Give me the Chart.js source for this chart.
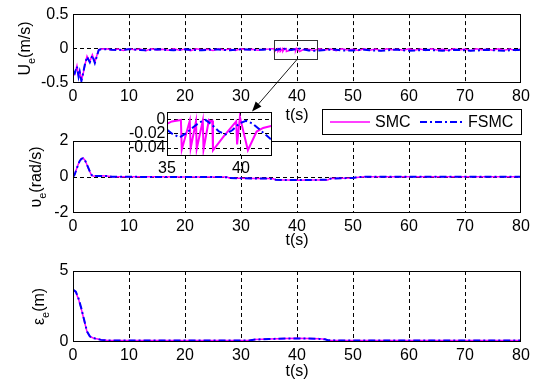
<!DOCTYPE html>
<html><head><meta charset="utf-8">
<script src="https://cdn.jsdelivr.net/npm/chart.js@4.4.0/dist/chart.umd.min.js"></script>
<style>
html,body{margin:0;padding:0;background:#fff;}
#wrap{position:relative;width:534px;height:387px;overflow:hidden;background:#fff;}
canvas{position:absolute;left:0;top:0;}
</style></head><body>
<div id="wrap">
<canvas id="c1" width="534" height="387"></canvas>
<canvas id="c2" width="534" height="387"></canvas>
<canvas id="c3" width="534" height="387"></canvas>
<canvas id="c4" width="534" height="387"></canvas>
</div>
<script>
// ---------------- data ----------------
const seriesNames = ['SMC', 'FSMC'];
const timeTicks = [0,10,20,30,40,50,60,70,80];
const uTicks = [-0.5,0,0.5];
const vTicks = [-2,0,2];
const eTicks = [0,5];
const insetTimeTicks = [35,40];
const insetUTicks = [-0.04,-0.02,0];

// U_e (m/s) - SMC
const tSmcU = [0,0.3,0.7,1.0,1.2,1.5,1.8,2.1,2.5,3.0,3.45,3.9,4.3,4.6,5.0,
  6,7,8,9,10,11,12,13,14,15,16,17,18,19,20,21,22,23,24,25,26,27,28,29,30,31,32,33,34,
  35.03,35.33,35.63,35.94,36.0,36.54,36.6,36.96,37.01,37.42,37.47,37.83,37.95,38.06,38.11,38.82,39.68,39.74,39.93,40.47,41.06,41.5,42.09,
  43,44,45,46,47,48,49,50,51,52,53,54,55,56,57,58,59,60,61,62,63,64,65,66,67,68,69,70,71,72,73,74,75,76,77,78,79,80];
const smcU = [-0.32,-0.37,-0.25,-0.40,-0.33,-0.46,-0.37,-0.25,-0.11,-0.19,-0.09,-0.20,-0.09,-0.015,-0.005,
  -0.004,-0.022,-0.006,-0.028,-0.003,-0.018,-0.008,-0.03,-0.002,-0.02,-0.01,-0.026,-0.004,-0.024,-0.006,-0.03,-0.003,-0.019,-0.009,-0.027,-0.002,-0.022,-0.007,-0.029,-0.004,-0.017,-0.01,-0.025,-0.012,
  -0.006,-0.003,-0.002,-0.001,-0.042,-0.002,-0.040,-0.003,-0.041,-0.002,-0.042,-0.001,-0.003,-0.002,-0.043,-0.024,-0.003,-0.035,0.003,-0.043,-0.017,-0.012,-0.009,
  -0.028,-0.005,-0.021,-0.008,-0.03,-0.003,-0.02,-0.01,-0.027,-0.004,-0.023,-0.006,-0.03,-0.002,-0.018,-0.009,-0.026,-0.005,-0.024,-0.007,-0.029,-0.003,-0.02,-0.01,-0.027,-0.004,-0.022,-0.006,-0.03,-0.002,-0.019,-0.009,-0.026,-0.005,-0.023,-0.007,-0.028,-0.004];

// U_e (m/s) - FSMC
const tFsmcU = [0,0.3,0.7,1.0,1.2,1.5,1.8,2.1,2.5,3.0,3.45,3.9,4.3,4.6,5.0,
  6,7,8,9,10,11,12,13,14,15,16,17,18,19,20,21,22,23,24,25,26,27,28,29,30,31,32,33,34,
  35.03,35.41,35.86,36.32,36.77,37.23,37.61,38.06,38.51,38.97,39.43,39.88,40.34,40.79,41.25,41.7,42.09,
  43,44,45,46,47,48,49,50,51,52,53,54,55,56,57,58,59,60,61,62,63,64,65,66,67,68,69,70,71,72,73,74,75,76,77,78,79,80];
const fsmcU = [-0.33,-0.36,-0.26,-0.41,-0.34,-0.47,-0.36,-0.24,-0.12,-0.20,-0.10,-0.21,-0.10,-0.02,-0.01,
  -0.012,-0.018,-0.022,-0.017,-0.01,-0.014,-0.021,-0.024,-0.018,-0.011,-0.015,-0.022,-0.025,-0.019,-0.012,-0.016,-0.023,-0.026,-0.02,-0.013,-0.015,-0.021,-0.024,-0.018,-0.011,-0.014,-0.02,-0.018,-0.016,
  -0.015,-0.021,-0.025,-0.019,-0.011,-0.004,-0.001,-0.008,-0.017,-0.021,-0.015,-0.006,-0.002,-0.006,-0.014,-0.022,-0.029,
  -0.031,-0.028,-0.022,-0.016,-0.019,-0.026,-0.03,-0.027,-0.02,-0.017,-0.023,-0.029,-0.032,-0.026,-0.019,-0.018,-0.025,-0.031,-0.03,-0.023,-0.018,-0.021,-0.028,-0.032,-0.027,-0.02,-0.019,-0.026,-0.031,-0.029,-0.022,-0.018,-0.023,-0.03,-0.032,-0.025,-0.02,-0.022];

// upsilon_e (rad/s)
const tV = [0,0.3,0.6,0.9,1.2,1.5,1.8,2.1,2.4,2.7,3.0,3.3,3.6,4,5,6,7,10,15,20,25,27.5,28,30,33,35,35.8,36.2,38,40,42,44,45.5,46,48,50,51,52,55,60,65,70,75,80];
const smcV = [0,0.15,0.42,0.68,0.9,1.02,1.05,0.95,0.75,0.52,0.3,0.11,0.04,0.07,0.07,0.06,0.02,0.01,0.01,0.0,0.0,0.0,-0.07,-0.07,-0.08,-0.08,-0.1,-0.16,-0.17,-0.18,-0.17,-0.17,-0.16,-0.08,-0.07,-0.06,-0.01,0.01,0.01,0.01,0.01,0.01,0.01,0.01];
const fsmcV = [0,0.14,0.4,0.67,0.89,1.01,1.04,0.95,0.76,0.53,0.31,0.12,0.03,0.06,0.06,0.05,0.02,0.01,0.0,0.0,0.0,-0.01,-0.06,-0.07,-0.08,-0.09,-0.11,-0.15,-0.17,-0.17,-0.16,-0.16,-0.15,-0.09,-0.07,-0.05,0.0,0.01,0.01,0.01,0.01,0.01,0.01,0.01];

// epsilon_e (m)
const tE = [0,0.5,1.0,1.5,2.0,2.5,3.0,3.5,4.0,5.0,6.0,8,10,20,30,31.5,32.5,35,38,40,42,44,45,45.5,50,60,70,80];
const smcE = [3.65,3.52,3.0,2.3,1.5,0.72,0.4,0.3,0.25,0.16,0.12,0.1,0.1,0.1,0.1,0.12,0.18,0.22,0.25,0.26,0.25,0.23,0.2,0.12,0.1,0.1,0.1,0.1];
const fsmcE = [3.7,3.55,3.05,2.35,1.55,0.75,0.4,0.29,0.24,0.15,0.11,0.1,0.1,0.1,0.1,0.11,0.17,0.21,0.24,0.25,0.24,0.22,0.19,0.12,0.1,0.1,0.1,0.1];

// ---------------- drawing ----------------
const FONT = '"Liberation Sans", Arial, Helvetica, sans-serif';
Chart.defaults.font.family = FONT;
Chart.defaults.font.size = 16;
Chart.defaults.color = '#000';

function pts(ts, vs){ return ts.map((t,i)=>({x:t, y:vs[i]})); }

const SMC_STYLE = {borderColor:'#ff00ff', borderWidth:1.5, pointRadius:0, tension:0, order:2};
const FSMC_STYLE = {borderColor:'#0000ff', borderWidth:2, borderDash:[7,3,2,3], pointRadius:0, tension:0, order:1};

function datasets(tS, vS, tF, vF, smcWidth){
  const smc = Object.assign({label:seriesNames[0], data:pts(tS,vS)}, SMC_STYLE);
  if (smcWidth) smc.borderWidth = smcWidth;
  return [
    Object.assign({label:seriesNames[1], data:pts(tF,vF)}, FSMC_STYLE),
    smc
  ];
}

const framePlugin = {
  id:'frame',
  beforeDraw(chart, args, o){
    if(!o.fill) return;
    const a = chart.chartArea, c = chart.ctx;
    c.save(); c.fillStyle = '#fff';
    c.fillRect(a.left, a.top, a.right-a.left, a.bottom-a.top);
    c.restore();
  },
  afterDraw(chart){
    const a = chart.chartArea, c = chart.ctx;
    c.save(); c.strokeStyle = '#000'; c.lineWidth = 1;
    const l = Math.round(a.left)+0.5, t = Math.round(a.top)+0.5;
    const r = Math.round(a.right)-0.5, b = Math.round(a.bottom)-0.5;
    c.strokeRect(l, t, r-l, b-t);
    c.restore();
  }
};

const yTitlePlugin = {
  id:'yTitle',
  afterDraw(chart, args, o){
    if(!o || !o.main) return;
    const c = chart.ctx, a = chart.chartArea;
    c.save(); c.fillStyle = '#000'; c.textBaseline = 'alphabetic'; c.textAlign = 'left';
    c.font = '16px ' + FONT;
    const w1 = c.measureText(o.main).width, w3 = c.measureText(o.rest).width;
    c.font = '11px ' + FONT;
    const w2 = c.measureText(o.sub).width;
    const total = w1 + w2 + w3;
    c.translate(o.x, (a.top + a.bottom)/2);
    c.rotate(-Math.PI/2);
    let x = -total/2;
    c.font = '16px ' + FONT; c.fillText(o.main, x, 0); x += w1;
    c.font = '11px ' + FONT; c.fillText(o.sub, x, 5); x += w2;
    c.font = '16px ' + FONT; c.fillText(o.rest, x, 0);
    c.restore();
  }
};
Chart.register(framePlugin, yTitlePlugin);

function gridColor(list){
  return (c) => (c.tick && list.includes(c.tick.value)) ? '#000' : 'rgba(0,0,0,0)';
}

function makeOptions(o){
  return {
    responsive:false, animation:false, devicePixelRatio:1,
    layout:{padding:o.padding},
    plugins:{legend:{display:false}, tooltip:{enabled:false}, yTitle:o.yTitle || {}, frame:{fill:!!o.fill}},
    scales:{
      x:{
        type:'linear', min:o.xMin, max:o.xMax,
        afterBuildTicks:s=>{ s.ticks = o.xTicks.map(v=>({value:v})); },
        afterFit:s=>{ s.height = o.xH; },
        grid:{drawTicks:false, lineWidth:1, color:gridColor(o.xGrid)},
        border:{display:false, dash:[4,3]},
        ticks:{padding:o.xPad, autoSkip:false, maxRotation:0, minRotation:0, color:'#000', font:{size:16}, callback:v=>String(v)},
        title:o.xTitle ? {display:true, text:o.xTitle, padding:0, color:'#000', font:{size:16}} : {display:false}
      },
      y:{
        type:'linear', min:o.yMin, max:o.yMax,
        afterBuildTicks:s=>{ s.ticks = o.yTicks.map(v=>({value:v})); },
        afterFit:s=>{ s.width = o.yW; },
        grid:{drawTicks:false, lineWidth:1, color:gridColor(o.yGrid)},
        border:{display:false, dash:[4,3]},
        ticks:{padding:o.yPad, autoSkip:false, color:'#000', font:{size:16}, callback:v=>String(v)}
      }
    }
  };
}

const innerGrid = [10,20,30,40,50,60,70];

const legendPlugin = {
  id:'legendBox',
  afterDraw(chart){
    const c = chart.ctx, a = chart.chartArea;
    const w = 200, h = 26;
    const x0 = Math.round(a.right) + 1 - w, y0 = Math.round(a.bottom) + 26, cy = y0 + h/2;
    const ds = chart.data.datasets;
    const smc = ds.find(d=>d.label===seriesNames[0]);
    const fsmc = ds.find(d=>d.label===seriesNames[1]);
    c.save();
    c.fillStyle = '#fff'; c.fillRect(x0, y0, w, h);
    c.strokeStyle = '#000'; c.lineWidth = 1; c.strokeRect(x0+0.5, y0+0.5, w-1, h-1);
    c.strokeStyle = smc.borderColor; c.lineWidth = smc.borderWidth;
    c.beginPath(); c.moveTo(x0+8, cy); c.lineTo(x0+48, cy); c.stroke();
    c.fillStyle = '#000'; c.font = '16px ' + FONT; c.textBaseline = 'middle'; c.textAlign = 'left';
    c.fillText(smc.label, x0+53, cy+0.5);
    c.strokeStyle = fsmc.borderColor; c.lineWidth = fsmc.borderWidth; c.setLineDash(fsmc.borderDash);
    c.beginPath(); c.moveTo(x0+98, cy); c.lineTo(x0+140, cy); c.stroke(); c.setLineDash([]);
    c.fillText(fsmc.label, x0+146, cy+0.5);
    c.restore();
  }
};

const topChart = new Chart(document.getElementById('c1'), {
  type:'line',
  data:{datasets:datasets(tSmcU, smcU, tFsmcU, fsmcU)},
  options:makeOptions({
    padding:{left:0, top:12, right:13, bottom:262},
    xMin:0, xMax:80, xTicks:timeTicks, xGrid:innerGrid, xH:42, xPad:4, xTitle:'t(s)',
    yMin:-0.5, yMax:0.5, yTicks:uTicks, yGrid:[0], yW:73, yPad:4.5,
    yTitle:{main:'U', sub:'e', rest:'(m/s)', x:29.5}
  }),
  plugins:[legendPlugin]
});

const midChart = new Chart(document.getElementById('c2'), {
  type:'line',
  data:{datasets:datasets(tV, smcV, tV, fsmcV)},
  options:makeOptions({
    padding:{left:0, top:141, right:13, bottom:137},
    xMin:0, xMax:80, xTicks:timeTicks, xGrid:innerGrid, xH:37, xPad:4, xTitle:'t(s)',
    yMin:-2, yMax:2, yTicks:vTicks, yGrid:[0], yW:73, yPad:4.5,
    yTitle:{main:'\u03C5', sub:'e', rest:'(rad/s)', x:41}
  })
});

const botChart = new Chart(document.getElementById('c3'), {
  type:'line',
  data:{datasets:datasets(tE, smcE, tE, fsmcE)},
  options:makeOptions({
    padding:{left:0, top:271, right:13, bottom:6},
    xMin:0, xMax:80, xTicks:timeTicks, xGrid:innerGrid, xH:39, xPad:4, xTitle:'t(s)',
    yMin:0, yMax:5, yTicks:eTicks, yGrid:[], yW:73, yPad:4.5,
    yTitle:{main:'\u03B5', sub:'e', rest:'(m)', x:44}
  })
});

const zoomMarkPlugin = {
  id:'zoomMark',
  afterDraw(chart){
    const c = chart.ctx, xs = topChart.scales.x, ys = topChart.scales.y;
    const x1 = Math.round(xs.getPixelForValue(35.9))+0.5, x2 = Math.round(xs.getPixelForValue(43.6))+0.5;
    const y1 = Math.round(ys.getPixelForValue(0.12))+0.5, y2 = Math.round(ys.getPixelForValue(-0.15))+0.5;
    c.save();
    c.strokeStyle = '#333'; c.lineWidth = 1;
    c.strokeRect(x1, y1, x2-x1, y2-y1);
    const sx = xs.getPixelForValue(40.0), sy = y2;
    const ex = chart.scales.x.getPixelForValue(40.75), ey = chart.chartArea.top - 0.5;
    const ang = Math.atan2(ey-sy, ex-sx);
    const L = 10, W = 3.8;
    const bx = ex - L*Math.cos(ang), by = ey - L*Math.sin(ang);
    c.strokeStyle = '#000'; c.lineWidth = 0.9;
    c.beginPath(); c.moveTo(sx, sy); c.lineTo(bx, by); c.stroke();
    c.fillStyle = '#000';
    c.beginPath();
    c.moveTo(ex, ey);
    c.lineTo(bx + W*Math.sin(ang), by - W*Math.cos(ang));
    c.lineTo(bx - W*Math.sin(ang), by + W*Math.cos(ang));
    c.closePath(); c.fill();
    c.restore();
  }
};

const insetChart = new Chart(document.getElementById('c4'), {
  type:'line',
  data:{datasets:datasets(tSmcU, smcU, tFsmcU, fsmcU, 2)},
  options:makeOptions({
    padding:{left:0, top:112, right:262, bottom:201},
    fill:true,
    xMin:35, xMax:42.1, xTicks:insetTimeTicks, xGrid:[40], xH:30, xPad:3,
    yMin:-0.051, yMax:0.0101, yTicks:insetUTicks, yGrid:[0,-0.02,-0.04], yW:167, yPad:1.5
  }),
  plugins:[zoomMarkPlugin]
});
</script>
</body></html>
